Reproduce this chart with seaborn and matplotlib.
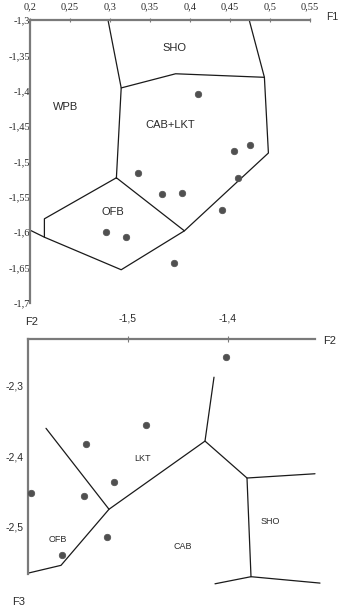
import matplotlib
matplotlib.use('Agg')
import matplotlib.pyplot as plt
import seaborn as sns

sns.set_style('white')

# --- top diagram: F1 vs F2 ---
top_f1 = [0.41, 0.475, 0.455, 0.335, 0.46, 0.365, 0.39, 0.44, 0.295, 0.32, 0.38]
top_f2 = [-1.405, -1.477, -1.485, -1.516, -1.523, -1.546, -1.545, -1.568, -1.600, -1.607, -1.644]
top_xticks = [0.2, 0.25, 0.3, 0.35, 0.4, 0.45, 0.5, 0.55]
top_xlabels = ['0,2', '0,25', '0,3', '0,35', '0,4', '0,45', '0,5', '0,55']
top_yticks = [-1.3, -1.35, -1.4, -1.45, -1.5, -1.55, -1.6, -1.65, -1.7]
top_ylabels = ['-1,3', '-1,35', '-1,4', '-1,45', '-1,5', '-1,55', '-1,6', '-1,65', '-1,7']
top_bounds = [
    ([0.2975, 0.314, 0.308], [-1.3, -1.396, -1.523]),
    ([0.314, 0.382, 0.493], [-1.396, -1.376, -1.381]),
    ([0.474, 0.493, 0.498, 0.393], [-1.3, -1.381, -1.488, -1.598]),
    ([0.308, 0.393, 0.314, 0.218, 0.218, 0.308], [-1.523, -1.598, -1.653, -1.607, -1.581, -1.523]),
    ([0.2, 0.218], [-1.597, -1.607]),
]
top_fields = ['SHO', 'WPB', 'CAB+LKT', 'OFB']
top_field_x = [0.381, 0.245, 0.375, 0.303]
top_field_y = [-1.34, -1.423, -1.448, -1.571]

# --- bottom diagram: F2 vs F3 ---
bot_f2 = [-1.402, -1.482, -1.542, -1.514, -1.597, -1.544, -1.521, -1.566]
bot_f3 = [-2.261, -2.356, -2.383, -2.437, -2.452, -2.456, -2.514, -2.539]
bot_xticks = [-1.5, -1.4]
bot_xlabels = ['-1,5', '-1,4']
bot_yticks = [-2.3, -2.4, -2.5]
bot_ylabels = ['-2,3', '-2,4', '-2,5']
bot_yminor = [-2.335, -2.435, -2.535]
bot_bounds = [
    ([-1.582, -1.519], [-2.361, -2.475]),
    ([-1.6, -1.567, -1.519, -1.423, -1.381, -1.313], [-2.565, -2.554, -2.475, -2.379, -2.431, -2.425]),
    ([-1.423, -1.414], [-2.379, -2.289]),
    ([-1.381, -1.377], [-2.431, -2.57]),
    ([-1.413, -1.377, -1.308], [-2.58, -2.57, -2.579]),
]
bot_fields = ['LKT', 'SHO', 'CAB', 'OFB']
bot_field_x = [-1.486, -1.358, -1.445, -1.57]
bot_field_y = [-2.403, -2.492, -2.527, -2.517]

W, H = 339, 606
fig = plt.figure(figsize=(W / 100, H / 100), dpi=100)
fig.patch.set_facecolor('white')

spine_col = '#7a7a7a'
line_col = '#1a1a1a'
dot_col = '#505050'
txt_col = '#2a2a2a'


def px_axes(left, top, right, bottom):
    return fig.add_axes([left / W, 1 - bottom / H, (right - left) / W, (bottom - top) / H])


def style(ax):
    ax.set_facecolor('none')
    for s in ['right', 'bottom']:
        ax.spines[s].set_visible(False)
    for s in ['top', 'left']:
        ax.spines[s].set_color(spine_col)
        ax.spines[s].set_linewidth(1.6)
    ax.xaxis.set_ticks_position('top')
    ax.xaxis.set_label_position('top')
    ax.set_xlabel('')
    ax.set_ylabel('')


# top panel
ax1 = px_axes(30, 20, 310, 303)
for xs, ys in top_bounds:
    ax1.plot(xs, ys, color=line_col, lw=0.9, clip_on=False)
sns.scatterplot(x=top_f1, y=top_f2, ax=ax1, color=dot_col, s=22, edgecolor=dot_col, linewidth=0.5, zorder=3)
for name, fx, fy in zip(top_fields, top_field_x, top_field_y):
    ax1.text(fx, fy, name, ha='center', va='center', fontsize=8, color=txt_col, family='Liberation Sans')
ax1.set_xlim(0.2, 0.55)
ax1.set_ylim(-1.7, -1.3)
style(ax1)
ax1.set_xticks(top_xticks)
ax1.set_xticklabels(top_xlabels, family='Liberation Serif', fontsize=7.5, color=txt_col)
ax1.set_yticks(top_yticks)
ax1.set_yticklabels(top_ylabels, family='Liberation Serif', fontsize=7.5, color=txt_col)
ax1.tick_params(axis='x', direction='inout', length=3, width=0.8, color=spine_col, pad=5)
ax1.tick_params(axis='y', length=0, pad=0)
fig.text(326 / W, 1 - 17 / H, 'F1', fontsize=7.5, color=txt_col, ha='left', va='center', family='Liberation Sans')

# bottom panel
ax2 = px_axes(28, 339, 315, 574)
for xs, ys in bot_bounds:
    ax2.plot(xs, ys, color=line_col, lw=0.9, clip_on=False)
sns.scatterplot(x=bot_f2, y=bot_f3, ax=ax2, color=dot_col, s=22, edgecolor=dot_col, linewidth=0.5, zorder=3, clip_on=False)
for name, fx, fy in zip(bot_fields, bot_field_x, bot_field_y):
    ax2.text(fx, fy, name, ha='center', va='center', fontsize=6.5, color=txt_col, family='Liberation Sans')
ax2.set_xlim(-1.6, -1.313)
ax2.set_ylim(-2.5662, -2.2352)
style(ax2)
ax2.set_xticks(bot_xticks)
ax2.set_xticklabels(bot_xlabels, family='Liberation Sans', fontsize=7.5, color=txt_col)
ax2.set_yticks(bot_yticks)
ax2.set_yticklabels(bot_ylabels, family='Liberation Sans', fontsize=7.5, color=txt_col)
ax2.set_yticks(bot_yminor, minor=True)
ax2.tick_params(axis='x', direction='inout', length=4, width=0.8, color=spine_col, pad=9)
ax2.tick_params(axis='y', which='major', length=0, pad=3.5)
ax2.tick_params(axis='y', which='minor', direction='out', length=3.5, width=0.8, color=spine_col)
fig.text(32 / W, 1 - 322 / H, 'F2', fontsize=8, color=txt_col, ha='center', va='center', family='Liberation Sans')
fig.text(330 / W, 1 - 341 / H, 'F2', fontsize=8, color=txt_col, ha='center', va='center', family='Liberation Sans')
fig.text(19 / W, 1 - 602 / H, 'F3', fontsize=8, color=txt_col, ha='center', va='center', family='Liberation Sans')

fig.savefig('out.png', dpi=100, facecolor='white')
